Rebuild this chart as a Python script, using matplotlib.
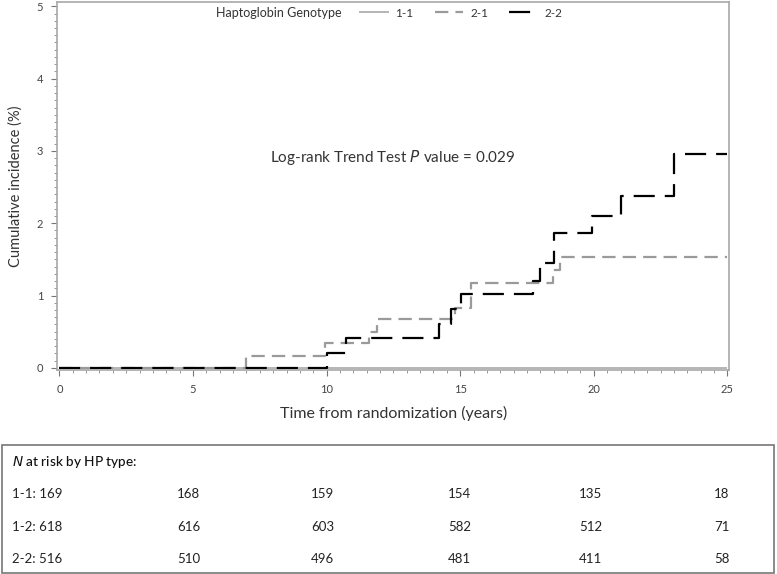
import matplotlib
matplotlib.use("Agg")
import matplotlib.pyplot as plt
from matplotlib.lines import Line2D
from matplotlib.patches import Rectangle
from matplotlib.ticker import MultipleLocator

# ---- data ----
t_11 = [0, 25]
y_11 = [0, 0]

t_21 = [0, 7.0, 9.95, 11.6, 11.9, 14.8, 15.4, 18.48, 18.72, 25]
y_21 = [0, 0.17, 0.34, 0.50, 0.67, 0.83, 1.18, 1.35, 1.53, 1.53]

t_22 = [0, 10.03, 10.71, 14.22, 14.64, 15.02, 17.72, 17.98, 18.5, 19.92, 21.0, 23.0, 25]
y_22 = [0, 0.21, 0.41, 0.61, 0.82, 1.02, 1.20, 1.45, 1.87, 2.10, 2.38, 2.96, 2.96]

x_ticks = [0, 5, 10, 15, 20, 25]
y_ticks = [0, 1, 2, 3, 4, 5]

genotypes = ["1-1", "2-1", "2-2"]
risk_labels = ["1-1:", "1-2:", "2-2:"]
risk_11 = [169, 168, 159, 154, 135, 18]
risk_12 = [618, 616, 603, 582, 512, 71]
risk_22 = [516, 510, 496, 481, 411, 58]

FONT = "Lato"
plt.rcParams["font.family"] = [FONT, "DejaVu Sans"]

W, H = 777, 574
fig = plt.figure(figsize=(W / 100, H / 100), dpi=100)

def fx(px):
    return px / W

def fy(py):
    return 1 - py / H

ax = fig.add_axes([fx(57), fy(370), fx(729.3) - fx(57), fy(2) - fy(370)])

c_light = "#b4b4b4"
c_gray = "#9a9a9a"
d_gray = (6, 3.2)
d_black = (9.5, 4.5)
ax.step(t_11, y_11, where="post", color=c_light, lw=1.4, solid_capstyle="butt")
ax.step(t_21, y_21, where="post", color=c_gray, lw=1.6, dashes=d_gray)
ax.step(t_22, y_22, where="post", color="black", lw=1.6, dashes=d_black)

ax.set_xlim(-0.09, 25.07)
ax.set_ylim(-0.03, 5.06)
ax.set_xticks(x_ticks)
ax.set_yticks(y_ticks)
ax.xaxis.set_minor_locator(MultipleLocator(0.5))
ax.yaxis.set_minor_locator(MultipleLocator(0.1))
ax.tick_params(which="major", length=4, width=0.8, color="#777777",
               labelsize=8, labelcolor="#444444", pad=6)
ax.tick_params(which="minor", length=2, width=0.6, color="#888888")
for s in ax.spines.values():
    s.set_color("#a8a8a8")
    s.set_linewidth(1.2)

ax.set_xlabel("Time from randomization (years)", fontsize=11.5, color="#333333", labelpad=8)
ax.set_ylabel("Cumulative incidence (%)", fontsize=10.5, color="#333333", labelpad=10)

ax.text(0.5, 0.577, "Log-rank Trend Test $\\it{P}$ value = 0.029",
        transform=ax.transAxes, ha="center", va="center", fontsize=11, color="#333333")

# legend
ax.text((342 - 57) / 672.3, 0.970, "Haptoglobin Genotype", transform=ax.transAxes,
        ha="right", va="center", fontsize=9, color="#333333")
handles = [
    Line2D([], [], color=c_light, lw=1.4),
    Line2D([], [], color=c_gray, lw=1.6, dashes=d_gray),
    Line2D([], [], color="black", lw=1.6, dashes=d_black),
]
ax.legend(handles, genotypes, loc="center left", bbox_to_anchor=((360 - 57) / 672.3, 0.970),
          ncol=3, frameon=False, fontsize=8.5, handlelength=2.4, handletextpad=0.6,
          columnspacing=1.8, borderpad=0, borderaxespad=0, labelcolor="#333333")

# at-risk table
box = Rectangle((fx(2), fy(573)), fx(774) - fx(2), fy(445) - fy(573), transform=fig.transFigure,
                fill=False, edgecolor="#777777", lw=1.2)
fig.patches.append(box)
fig.text(fx(12), fy(462), "$\\it{N}$ at risk by HP type:", ha="left", va="center",
         fontsize=9.8, color="#111111", fontweight="medium")
col_x = [12, 177, 311, 448, 579, 714]
row_y = [494, 527, 559]
for lab, vals, ry in zip(risk_labels, [risk_11, risk_12, risk_22], row_y):
    for i, (cx, v) in enumerate(zip(col_x, vals)):
        txt = f"{lab} {v}" if i == 0 else f"{v}"
        fig.text(fx(cx), fy(ry), txt, ha="left", va="center", fontsize=9.5, color="#222222")

fig.savefig("out.png", dpi=100)
